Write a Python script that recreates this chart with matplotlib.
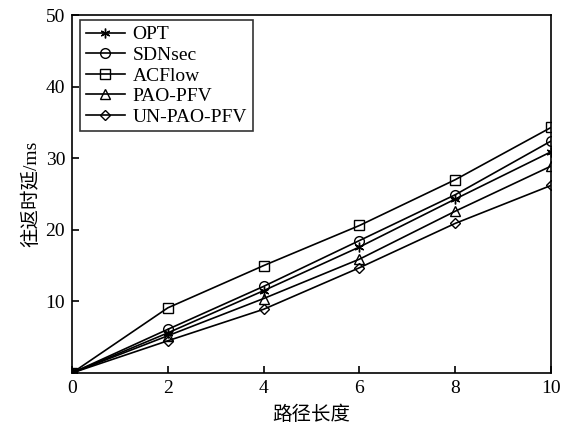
import matplotlib
matplotlib.use("Agg")
import matplotlib.pyplot as plt

x = [0, 2, 4, 6, 8, 10]
opt = [0, 5.6, 11.5, 17.6, 24.3, 30.9]
sdnsec = [0, 6.1, 12.1, 18.5, 24.9, 32.4]
acflow = [0, 9.1, 15.0, 20.6, 27.0, 34.3]
pao = [0, 5.2, 10.4, 15.9, 22.6, 28.9]
unpao = [0, 4.5, 8.9, 14.7, 20.9, 26.2]

series = [
    ("OPT", opt, (6, 2, 0)),
    ("SDNsec", sdnsec, "o"),
    ("ACFlow", acflow, "s"),
    ("PAO-PFV", pao, "^"),
    ("UN-PAO-PFV", unpao, "D"),
]

serif = ["Liberation Serif", "Noto Sans CJK SC"]
plt.rcParams["font.family"] = serif

fig = plt.figure(figsize=(5.67, 4.3), dpi=100)
ax = fig.add_axes([0.127, 0.1326, 0.845, 0.8325])

for name, vals, m in series:
    ms = 7 if m != "D" else 5.5
    ax.plot(x, vals, color="black", linewidth=1.2, marker=m, markersize=ms,
            markerfacecolor="none", markeredgecolor="black", markeredgewidth=1.0,
            label=name)

ax.set_xlim(0, 10)
ax.set_ylim(0, 50)
ax.set_xticks([0, 2, 4, 6, 8, 10])
ax.set_yticks([10, 20, 30, 40, 50])
ax.tick_params(direction="in", length=5, width=1.2, labelsize=14,
               top=False, right=False, pad=5)
for s in ax.spines.values():
    s.set_linewidth(1.2)

ax.set_xlabel("路径长度", family=serif, fontsize=14, labelpad=6)
ax.set_ylabel("往返时延/ms", family=serif, fontsize=14, labelpad=4)

leg = ax.legend(loc="upper left", fontsize=14, frameon=True, fancybox=False,
                edgecolor="black", handlelength=2.0, labelspacing=0.15,
                borderpad=0.3, handletextpad=0.4, borderaxespad=0,
                bbox_to_anchor=(0.017, 0.986))
leg.get_frame().set_linewidth(1.2)

fig.savefig("out.png", dpi=100)
